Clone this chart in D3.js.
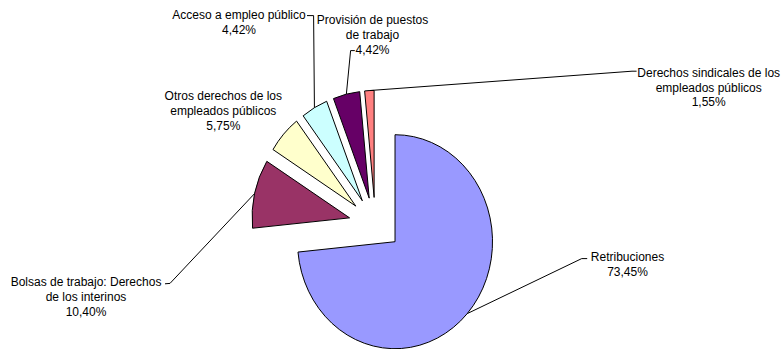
<!DOCTYPE html>
<html>
<head>
<meta charset="utf-8">
<script src="https://cdn.jsdelivr.net/npm/d3@7"></script>
<style>
  html, body { margin: 0; padding: 0; background: #fff; }
  svg { display: block; }
  text { font-family: "Liberation Sans", Arial, sans-serif; font-size: 12px; fill: #000; }
</style>
</head>
<body>
<svg id="chart" width="782" height="349"></svg>
<script>
// Share of the total by topic (percent)
const categories = [
  "Retribuciones",
  "Bolsas de trabajo: Derechos de los interinos",
  "Otros derechos de los empleados públicos",
  "Acceso a empleo público",
  "Provisión de puestos de trabajo",
  "Derechos sindicales de los empleados públicos"
];
const shares = [73.45, 10.40, 5.75, 4.42, 4.42, 1.55];
// How each category name is broken across lines in its label
const labelLines = [
  ["Retribuciones"],
  ["Bolsas de trabajo: Derechos", "de los interinos"],
  ["Otros derechos de los", "empleados públicos"],
  ["Acceso a empleo público"],
  ["Provisión de puestos", "de trabajo"],
  ["Derechos sindicales de los", "empleados públicos"]
];
const colors = ["#9999FF", "#993366", "#FFFFCC", "#CCFFFF", "#660066", "#FF8080"];

// Pie geometry
const cx = 375.4, cy = 223.9;   // pie centre
const ry = 107, rx = 97.5;      // radii (slightly oval)
const explode = 26.5;           // distance each slice is pulled out
const lineHeight = 14.7;

// Label placement: text centre / first baseline, and leader elbow + tick end
const labelLayout = [
  { x: 627.5, y: 261.2, elbow: [581.7, 258.6], tick: [587.2, 258.6] },
  { x: 86,    y: 286.3, elbow: [170, 283.4],   tick: [165, 283.8] },
  { x: 223.3, y: 100.2, elbow: null },
  { x: 239,   y: 19.4,  elbow: [313.6, 15.6],  tick: [307, 15.6] },
  { x: 372.5, y: 24.3,  elbow: [350.6, 50.6],  tick: [354.8, 50.6] },
  { x: 708.7, y: 76.8,  elbow: [632, 71.2],    tick: [636.6, 71.2] }
];

const esLocale = d3.formatLocale({ decimal: ",", thousands: ".", grouping: [3], currency: ["", " €"] });
const pct = v => esLocale.format(".2f")(v) + "%";

const svg = d3.select("#chart");

const pie = d3.pie().sort(null).value(d => d).startAngle(0).endAngle(2 * Math.PI);
const arcs = pie(shares);
const arc = d3.arc().innerRadius(0).outerRadius(ry);
const mid = d => (d.startAngle + d.endAngle) / 2;
const apex = d => [cx + explode * Math.sin(mid(d)), cy - explode * Math.cos(mid(d))];

// Slices
svg.append("g").selectAll("path")
  .data(arcs)
  .join("path")
  .attr("transform", d => { const [ax, ay] = apex(d); return `translate(${ax},${ay}) scale(${rx / ry},1)`; })
  .attr("d", arc)
  .attr("fill", (d, i) => colors[i])
  .attr("stroke", "#000")
  .attr("stroke-width", 1)
  .attr("stroke-linejoin", "round")
  .attr("vector-effect", "non-scaling-stroke");

// Leader lines from the middle of each slice's rim to its label
const line = d3.line();
svg.append("g").selectAll("path")
  .data(arcs.filter((d, i) => labelLayout[i].elbow))
  .join("path")
  .attr("d", d => {
    const L = labelLayout[d.index];
    const [ax, ay] = apex(d);
    const rim = [ax + rx * Math.sin(mid(d)), ay - ry * Math.cos(mid(d))];
    return line([rim, L.elbow, L.tick]);
  })
  .attr("fill", "none")
  .attr("stroke", "#000")
  .attr("stroke-width", 1);

// Labels: category name plus share
const labels = svg.append("g").selectAll("text")
  .data(arcs)
  .join("text")
  .attr("text-anchor", "middle")
  .attr("x", d => labelLayout[d.index].x)
  .attr("y", d => labelLayout[d.index].y);

labels.selectAll("tspan")
  .data(d => labelLines[d.index].concat([pct(shares[d.index])]).map(t => ({ t, x: labelLayout[d.index].x })))
  .join("tspan")
  .attr("x", d => d.x)
  .attr("dy", (d, i) => i === 0 ? 0 : lineHeight)
  .text(d => d.t);
</script>
</body>
</html>
